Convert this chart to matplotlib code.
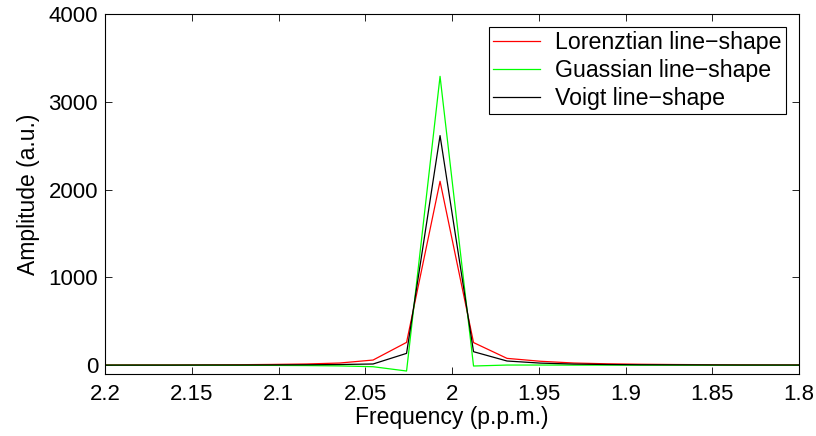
import matplotlib
matplotlib.use("Agg")
import matplotlib.pyplot as plt
from matplotlib.legend_handler import HandlerLine2D
from matplotlib.lines import Line2D

freq = [2.2192, 2.1999, 2.1806, 2.1613, 2.1420, 2.1227, 2.1034, 2.0841, 2.0648,
        2.0455, 2.0262, 2.0069, 1.9876, 1.9683, 1.9490, 1.9297, 1.9104, 1.8911,
        1.8718, 1.8525, 1.8332, 1.8139, 1.7946]
lorentz = [3, 3, 4, 4, 5, 6, 9, 14, 25, 59, 260, 2095, 258, 78, 45, 25, 16, 11,
           8, 6, 5, 4, 4]
gauss = [0, 0, 0, 0, 0, -1, -2, -4, -8, -17, -66, 3290, -9, 2, 2, 1, 1, 0,
         0, 0, 0, 0, 0]
voigt = [1, 1, 1, 1, 2, 2, 3, 5, 8, 14, 135, 2615, 154, 48, 24, 13, 8, 5,
         4, 3, 2, 2, 2]

plt.rcParams['font.family'] = ['Liberation Sans', 'DejaVu Sans']


class ShiftedLine(HandlerLine2D):
    def create_artists(self, legend, orig_handle, xdescent, ydescent, width,
                       height, fontsize, trans):
        arts = super().create_artists(legend, orig_handle, xdescent, ydescent,
                                      width, height, fontsize, trans)
        for a in arts:
            if isinstance(a, Line2D):
                xd = list(a.get_xdata())
                if len(xd) == 2:
                    a.set_xdata([xd[0] + 6.6, xd[1]])
        return arts


fig = plt.figure(figsize=(8.16, 4.36), dpi=100)
ax = fig.add_axes([0.1287, 0.1422, 0.8505, 0.8257])

ax.plot(freq, lorentz, color='#ff0000', lw=0.9, label='Lorenztian line\u2212shape')
ax.plot(freq, gauss, color='#00ff00', lw=0.9, label='Guassian line\u2212shape')
ax.plot(freq, voigt, color='#000000', lw=0.9, label='Voigt line\u2212shape')

ax.set_xlim(2.2, 1.8)
ax.set_ylim(-100, 4000)
ax.set_xticks([2.2, 2.15, 2.1, 2.05, 2.0, 1.95, 1.9, 1.85, 1.8])
ax.set_xticklabels(['2.2', '2.15', '2.1', '2.05', '2', '1.95', '1.9', '1.85', '1.8'])
ax.set_yticks([0, 1000, 2000, 3000, 4000])
ax.tick_params(direction='in', top=True, right=True, labelsize=16, length=5,
               width=0.6)
ax.tick_params(axis='y', pad=5)
ax.tick_params(axis='x', pad=7)
for s in ax.spines.values():
    s.set_linewidth(0.8)

ax.set_xlabel('Frequency (p.p.m.)', fontsize=16.5, labelpad=1)
ax.set_ylabel('Amplitude (a.u.)', fontsize=16.5, labelpad=6)

leg = ax.legend(loc='upper right', fontsize=16.7, frameon=True, fancybox=False,
                edgecolor='black', framealpha=1, handlelength=2.0,
                borderaxespad=0.55, borderpad=0.2, labelspacing=0.2,
                handletextpad=0.66,
                handler_map={Line2D: ShiftedLine()})
leg.get_frame().set_linewidth(0.8)

fig.savefig('out.png', dpi=100)
